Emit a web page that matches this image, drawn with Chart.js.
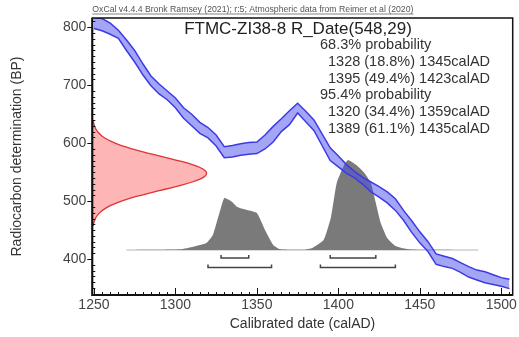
<!DOCTYPE html>
<html>
<head>
<meta charset="utf-8">
<style>
  html, body { margin: 0; padding: 0; background: #fff; }
  #wrap { width: 519px; height: 337px; }
</style>
<script src="https://cdn.jsdelivr.net/npm/chart.js@4.4.0/dist/chart.umd.min.js"></script>
</head>
<body>
<div id="wrap"><canvas id="chart" width="519" height="337"></canvas></div>
<script>
// Calibration curve (IntCal20 band, BP)
const calYears = [1250, 1255, 1260, 1265, 1270, 1275, 1280, 1285, 1290, 1295, 1300, 1305, 1310, 1315, 1320, 1325,
  1330, 1335, 1340, 1345, 1350, 1355, 1360, 1365, 1370, 1375, 1380, 1385, 1390, 1395, 1400, 1405, 1410, 1415,
  1420, 1425, 1430, 1435, 1440, 1445, 1450, 1455, 1460, 1465, 1470, 1475, 1480, 1485, 1490, 1495, 1500, 1505];
const calUpper = [817, 815, 807, 795, 778, 760, 737, 716, 702, 690, 678, 661, 650, 636, 627, 614,
  594, 596, 599, 601, 602, 614, 629, 642, 656, 669, 655, 640, 616, 592, 578, 563, 551, 541,
  533, 525, 516, 504, 484, 466, 447, 430, 409, 405, 401, 394, 387, 381, 378, 373, 368, 365];
const calLower = [798, 794, 788, 781, 760, 740, 718, 699, 685, 675, 661, 643, 630, 617, 609, 595,
  575, 576, 579, 581, 582, 590, 602, 620, 632, 652, 637, 622, 596, 570, 559, 548, 540, 529,
  516, 507, 497, 484, 467, 446, 428, 413, 391, 387, 384, 377, 369, 364, 359, 356, 353, 349];

// Radiocarbon measurement 548 +/- 29 BP (relative density)
const likeBP = [458, 458, 463, 468, 473, 478, 483, 488, 493, 498, 503, 508, 513, 518, 523, 528, 533, 538, 543,
  548, 553, 558, 563, 568, 573, 578, 583, 588, 593, 598, 603, 608, 613, 618, 623, 628, 633, 638, 638];
const likeDensity = [0, 0.0081, 0.0136, 0.0222, 0.0354, 0.0544, 0.081, 0.1177, 0.1655, 0.2262, 0.3, 0.3862,
  0.4829, 0.5851, 0.6897, 0.7884, 0.8746, 0.9423, 0.9853, 1, 0.9853, 0.9423, 0.8746, 0.7884, 0.6897, 0.5851,
  0.4829, 0.3862, 0.3, 0.2262, 0.1655, 0.1177, 0.081, 0.0544, 0.0354, 0.0222, 0.0136, 0.0081, 0];

// Calibrated date distribution (relative)
const postYears = [1270, 1290, 1297, 1303, 1311, 1319, 1323, 1327, 1330, 1334.5, 1338, 1344, 1350, 1355, 1360,
  1364, 1370, 1379, 1384, 1391, 1395.5, 1399, 1403.5, 1406, 1411, 1416, 1420, 1423, 1426, 1430, 1435, 1442, 1450, 1486];
const postDensity = [0, 0.002, 0.005, 0.008, 0.037, 0.078, 0.167, 0.41, 0.578, 0.54, 0.478, 0.444, 0.411, 0.222, 0.056,
  0.01, 0.002, 0.003, 0.022, 0.111, 0.367, 0.744, 0.944, 1.0, 0.944, 0.856, 0.744, 0.522, 0.3, 0.133, 0.044, 0.011, 0.002, 0];

// Highest probability ranges
const ranges68 = [[1328, 1345], [1395, 1423]];
const probs68 = [18.8, 49.4];
const ranges95 = [[1320, 1359], [1389, 1435]];
const probs95 = [34.4, 61.1];

const xTicks = [1250, 1300, 1350, 1400, 1450, 1500];
const yTicks = [400, 500, 600, 700, 800];

const FONT = "'Liberation Sans', Arial, Helvetica, sans-serif";

const pts = (xs, ys) => xs.map((x, i) => ({ x: x, y: ys[i] }));

// bracket under the distribution: level and tip are in y2 units
const bracket = (r, level, tip) => ({
  data: [{ x: r[0], y: tip }, { x: r[0], y: level }, { x: r[1], y: level }, { x: r[1], y: tip }],
  yAxisID: 'y2', borderColor: '#444', borderWidth: 1.5, fill: false, tension: 0, order: 4
});

const datasets = [
  { // band upper edge, fills down to lower edge
    data: pts(calYears, calUpper), borderColor: '#3b3be6', borderWidth: 1.5,
    backgroundColor: 'rgba(75, 75, 235, 0.5)', fill: '+1', tension: 0, order: 1
  },
  {
    data: pts(calYears, calLower), borderColor: '#3b3be6', borderWidth: 1.5,
    fill: false, tension: 0, order: 0
  },
  { // measurement on the BP axis
    data: pts(likeDensity, likeBP), xAxisID: 'x2', borderColor: '#e03333', borderWidth: 1.3,
    backgroundColor: 'rgba(250, 90, 90, 0.45)', fill: 'shape', tension: 0.3, order: 3
  },
  { // calibrated distribution
    data: pts(postYears, postDensity), yAxisID: 'y2', borderWidth: 0, borderColor: 'rgba(0,0,0,0)',
    backgroundColor: '#7a7a7a', fill: 'origin', tension: 0.15, order: 5
  },
  { // baseline
    data: [{ x: postYears[0], y: 0 }, { x: postYears[postYears.length - 1], y: 0 }], yAxisID: 'y2',
    borderColor: '#cfcfcf', borderWidth: 1.5, fill: false, order: 6
  }
];
ranges68.forEach(r => datasets.push(bracket(r, -0.09, -0.055)));
ranges95.forEach(r => datasets.push(bracket(r, -0.195, -0.16)));

const axesFrame = {
  id: 'axesFrame',
  afterDraw(chart) {
    const { ctx, chartArea: a, scales: { x, y } } = chart;
    ctx.save();
    ctx.strokeStyle = '#111';
    ctx.lineWidth = 1.5;
    ctx.strokeRect(a.left, a.top, a.right - a.left, a.bottom - a.top);
    ctx.lineWidth = 2;
    ctx.beginPath();
    ctx.moveTo(a.left, a.top); ctx.lineTo(a.left, a.bottom); ctx.lineTo(a.right, a.bottom);
    ctx.stroke();
    ctx.lineWidth = 1;
    ctx.beginPath();
    for (let v = 1250; v <= 1505; v += 5) {
      const px = Math.round(x.getPixelForValue(v)) + 0.5;
      const len = xTicks.includes(v) ? 7 : 3;
      ctx.moveTo(px, a.bottom); ctx.lineTo(px, a.bottom - len);
    }
    for (let v = 340; v <= 810; v += 10) {
      const py = Math.round(y.getPixelForValue(v)) + 0.5;
      if (yTicks.includes(v)) { ctx.moveTo(a.left - 5, py); ctx.lineTo(a.left, py); }
      else { ctx.moveTo(a.left, py); ctx.lineTo(a.left + 3, py); }
    }
    ctx.stroke();
    ctx.restore();
  }
};

const textBlock = {
  id: 'textBlock',
  afterDraw(chart) {
    const { ctx, chartArea: a } = chart;
    ctx.save();
    // header
    ctx.font = '8.7px ' + FONT;
    ctx.fillStyle = '#555';
    ctx.textBaseline = 'alphabetic';
    const head = 'OxCal v4.4.4 Bronk Ramsey (2021); r:5; Atmospheric data from Reimer et al (2020)';
    ctx.fillText(head, a.left, 12);
    const hw = ctx.measureText(head).width;
    ctx.strokeStyle = '#666'; ctx.lineWidth = 0.8;
    ctx.beginPath(); ctx.moveTo(a.left, 14); ctx.lineTo(a.left + hw, 14); ctx.stroke();
    // sample title
    ctx.fillStyle = '#222';
    ctx.font = '17px ' + FONT;
    ctx.textAlign = 'center';
    ctx.fillText('FTMC-ZI38-8 R_Date(548,29)', 298, 34);
    // ranges
    ctx.textAlign = 'left';
    ctx.font = '14.5px ' + FONT;
    ctx.fillStyle = '#333';
    const lines = [['68.3% probability', 320]];
    ranges68.forEach((r, i) => lines.push([r[0] + ' (' + probs68[i] + '%) ' + r[1] + 'calAD', 328]));
    lines.push(['95.4% probability', 320]);
    ranges95.forEach((r, i) => lines.push([r[0] + ' (' + probs95[i] + '%) ' + r[1] + 'calAD', 328]));
    lines.forEach((l, i) => ctx.fillText(l[0], l[1], 49 + i * 16.8));
    ctx.restore();
  }
};

new Chart(document.getElementById('chart'), {
  type: 'line',
  data: { datasets: datasets },
  options: {
    responsive: false,
    animation: false,
    layout: { padding: { left: 0, right: 5, top: 18, bottom: 0 } },
    elements: { point: { radius: 0 } },
    plugins: { legend: { display: false }, tooltip: { enabled: false } },
    scales: {
      x: {
        type: 'linear', min: 1249, max: 1507,
        afterBuildTicks: s => { s.ticks = xTicks.map(v => ({ value: v })); },
        afterFit: s => { s.height = 42; },
        grid: { display: false, drawTicks: false }, border: { display: false },
        ticks: { font: { family: FONT, size: 14 }, color: '#444', padding: 2, maxRotation: 0, autoSkip: false,
          callback: v => String(v) },
        title: { display: true, text: 'Calibrated date (calAD)', font: { family: FONT, size: 14 }, color: '#333',
          padding: { top: 0, bottom: 4 } }
      },
      y: {
        type: 'linear', min: 338, max: 816,
        afterBuildTicks: s => { s.ticks = yTicks.map(v => ({ value: v })); },
        afterFit: s => { s.width = 92.3; },
        grid: { display: false, drawTicks: false }, border: { display: false },
        ticks: { font: { family: FONT, size: 14 }, color: '#444', padding: 6, callback: v => String(v) },
        title: { display: true, text: 'Radiocarbon determination (BP)', font: { family: FONT, size: 14 }, color: '#333',
          padding: { top: 9, bottom: 0 } }
      },
      x2: { type: 'linear', display: false, min: 0, max: 3.677 },
      y2: { type: 'linear', display: false, min: -0.5, max: 2.578 }
    }
  },
  plugins: [axesFrame, textBlock]
});
</script>
</body>
</html>
